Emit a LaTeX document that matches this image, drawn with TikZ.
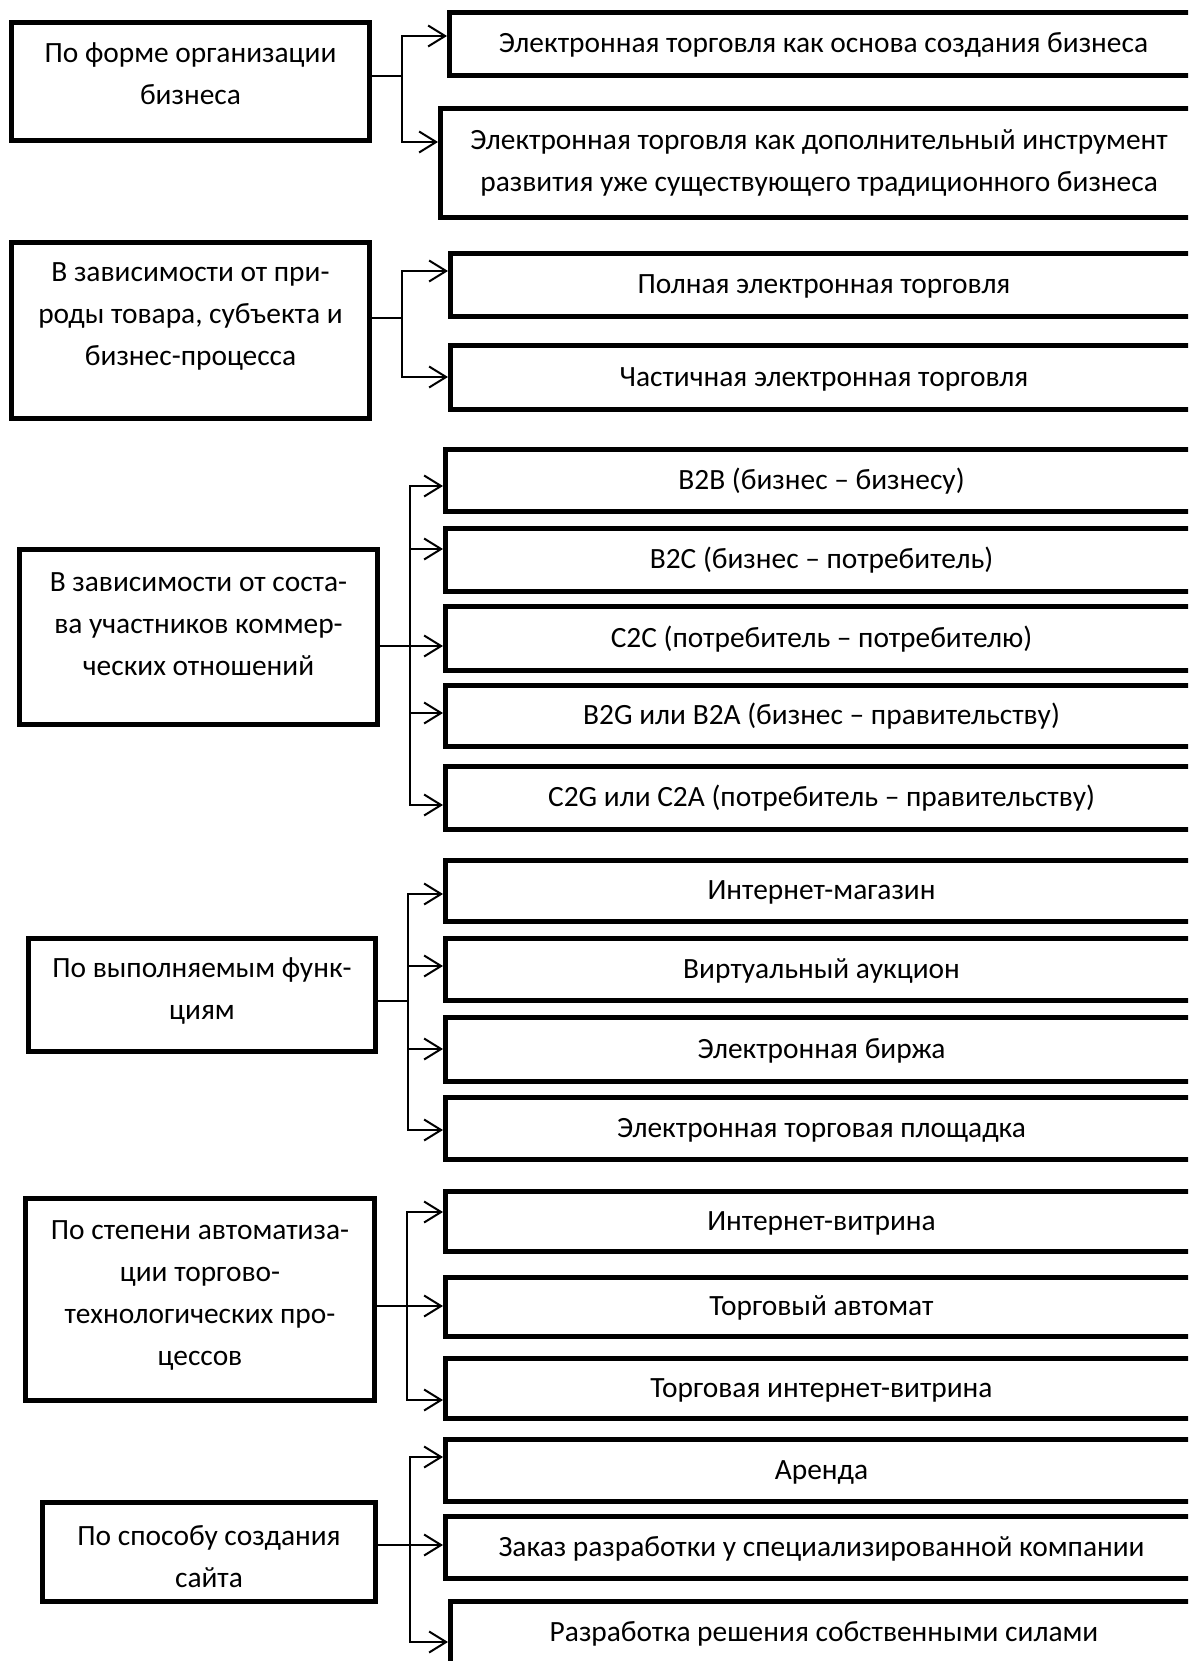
\documentclass[tikz,border=0pt]{standalone}
\usepackage{fontspec}
\setmainfont{Carlito}
\usetikzlibrary{arrows.meta}
\newcommand\fsz{\fontsize{29.4}{42}\selectfont}
\newcommand\bx[7]{%
  \node[#1, minimum width={(#5)-(#3)-5}, minimum height={(#6)-(#4)-5}] (#2)
    at ({((#3)+(#5))/2},{((#4)+(#6))/2}) {#7};}
\begin{document}
\begin{tikzpicture}[x=1pt,y=-1pt,
  lbox/.style={draw, line width=5pt, inner sep=0pt},
  rbox2/.style={draw, line width=5pt, inner sep=0pt, align=center, font=\fsz},
  rbox/.style={rbox2, text height=20pt, text depth=3pt},
  ltext/.style={align=center, font=\fsz, inner sep=0pt},
  conn/.style={line width=2pt},
  arr/.style={line width=2pt, -{Straight Barb[length=17pt,width=21pt]}}]
\useasboundingbox[fill=white] (0,0) rectangle (1188,1661);
\clip (0,0) rectangle (1188,1661);

% Row 1
\bx{lbox}{l1}{9}{20}{372}{143}{}
\node[ltext] (l1t) at (190.5,74) {По форме организации\\бизнеса};
\bx{rbox}{b1}{447}{10}{1200}{78}{Электронная торговля как основа создания бизнеса}
\bx{rbox2}{b2}{438}{106}{1200}{220}{Электронная торговля как дополнительный инструмент\\развития уже существующего традиционного бизнеса}
\coordinate (j1) at (402,76);
\draw[conn] (l1.east |- j1) -- (j1);
\draw[arr] (j1) |- (b1.west |- 0,36);
\draw[arr] (j1) |- (b2.west |- 0,142);

% Row 2
\bx{lbox}{l2}{9}{240}{372}{421}{}
\node[ltext] (l2t) at (190.5,316) {В зависимости от при-\\роды товара, субъекта и\\бизнес-процесса};
\bx{rbox}{c1}{448}{251}{1200}{319}{Полная электронная торговля}
\bx{rbox}{c2}{448}{343}{1200}{412}{Частичная электронная торговля}
\coordinate (j2) at (402,318);
\draw[conn] (l2.east |- j2) -- (j2);
\draw[arr] (j2) |- (c1.west |- 0,271);
\draw[arr] (j2) |- (c2.west |- 0,377);

% Row 3
\bx{lbox}{l3}{17}{547}{380}{727}{}
\node[ltext] (l3t) at (198.5,624) {В зависимости от соста-\\ва участников коммер-\\ческих отношений};
\bx{rbox}{d1}{443}{447}{1200}{514}{B2B (бизнес – бизнесу)}
\bx{rbox}{d2}{443}{526}{1200}{594}{B2C (бизнес – потребитель)}
\bx{rbox}{d3}{443}{604}{1200}{673}{C2C (потребитель – потребителю)}
\bx{rbox}{d4}{443}{683}{1200}{749}{B2G или B2A (бизнес – правительству)}
\bx{rbox}{d5}{443}{764}{1200}{832}{C2G или C2A (потребитель – правительству)}
\coordinate (j3) at (410,646);
\draw[arr] (l3.east |- j3) -- (d3.west |- j3);
\draw[arr] (j3) |- (d1.west |- 0,486);
\draw[arr] (j3) |- (d2.west |- 0,549);
\draw[arr] (j3) |- (d4.west |- 0,713);
\draw[arr] (j3) |- (d5.west |- 0,805);

% Row 4
\bx{lbox}{l4}{26}{936}{378}{1054}{}
\node[ltext] (l4t) at (202,991) {По выполняемым функ-\\циям};
\bx{rbox}{e1}{443}{858}{1200}{924}{Интернет-магазин}
\bx{rbox}{e2}{443}{936}{1200}{1003}{Виртуальный аукцион}
\bx{rbox}{e3}{443}{1015}{1200}{1084}{Электронная биржа}
\bx{rbox}{e4}{443}{1095}{1200}{1162}{Электронная торговая площадка}
\coordinate (j4) at (408,1001);
\draw[conn] (l4.east |- j4) -- (j4);
\draw[arr] (j4) |- (e1.west |- 0,894);
\draw[arr] (j4) |- (e2.west |- 0,966);
\draw[arr] (j4) |- (e3.west |- 0,1049);
\draw[arr] (j4) |- (e4.west |- 0,1130);

% Row 5
\bx{lbox}{l5}{23}{1196}{377}{1403}{}
\node[ltext] (l5t) at (200,1295) {По степени автоматиза-\\ции торгово-\\технологических про-\\цессов};
\bx{rbox}{f1}{443}{1189}{1200}{1254}{Интернет-витрина}
\bx{rbox}{f2}{443}{1275}{1200}{1339}{Торговый автомат}
\bx{rbox}{f3}{443}{1356}{1200}{1421}{Торговая интернет-витрина}
\coordinate (j5) at (407,1306);
\draw[arr] (l5.east |- j5) -- (f2.west |- j5);
\draw[arr] (j5) |- (f1.west |- 0,1212);
\draw[arr] (j5) |- (f3.west |- 0,1400);

% Row 6
\bx{lbox}{l6}{40}{1500}{378}{1604}{}
\node[ltext] (l6t) at (209,1557) {По способу создания\\сайта};
\bx{rbox}{g1}{443}{1437}{1200}{1504}{Аренда}
\bx{rbox}{g2}{443}{1514}{1200}{1581}{Заказ разработки у специализированной компании}
\bx{rbox}{g3}{448}{1599}{1200}{1666}{Разработка решения собственными силами}
\coordinate (j6) at (410,1545);
\draw[arr] (l6.east |- j6) -- (g2.west |- j6);
\draw[arr] (j6) |- (g1.west |- 0,1457);
\draw[arr] (j6) |- (g3.west |- 0,1642);
\end{tikzpicture}
\end{document}
